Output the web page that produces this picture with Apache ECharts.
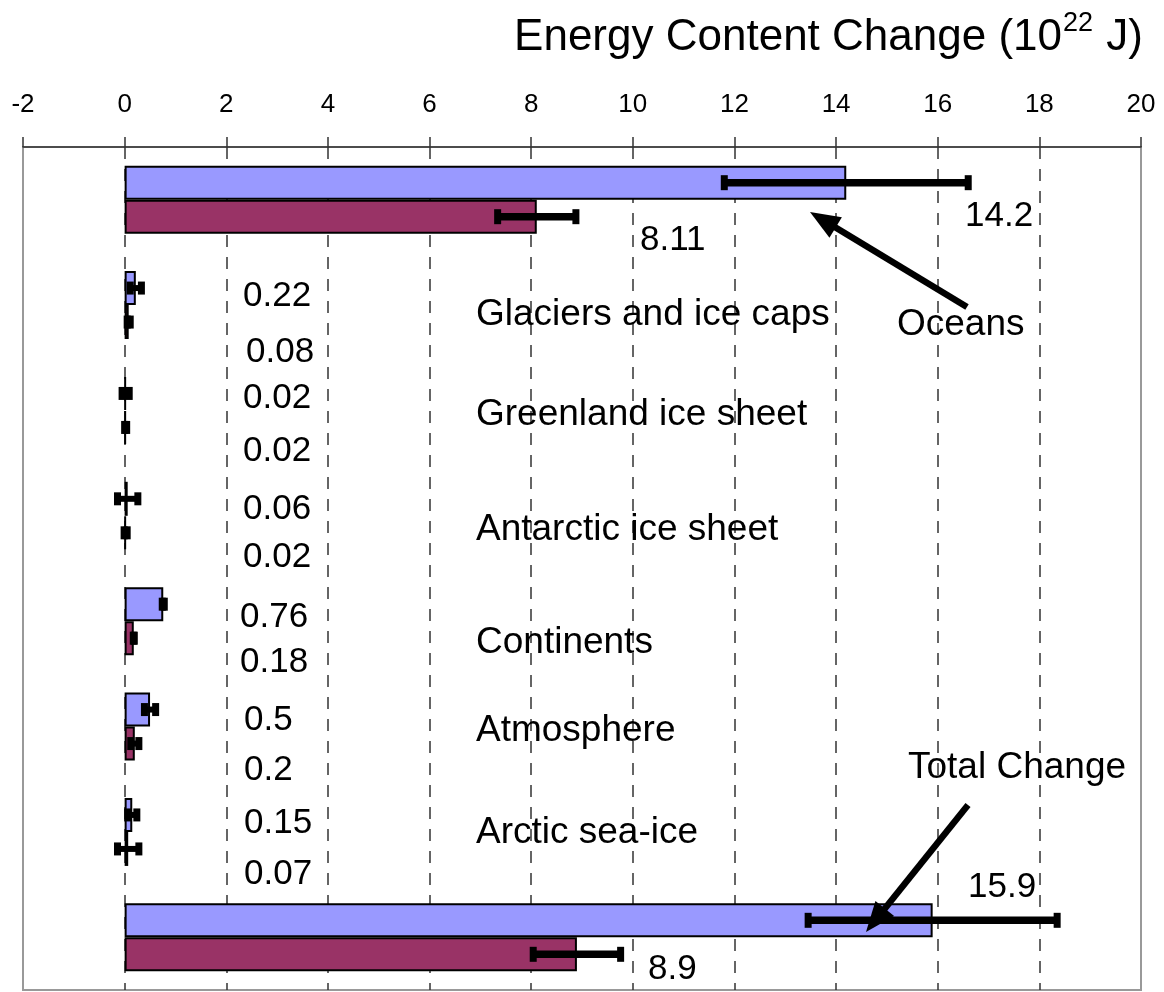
<!DOCTYPE html>
<html>
<head>
<meta charset="utf-8">
<script src="https://cdn.jsdelivr.net/npm/echarts@6/dist/echarts.min.js"></script>
<style>
  html, body { margin: 0; padding: 0; background: #fff; }
  #chart { width: 1164px; height: 992px; }
</style>
</head>
<body>
<div id="chart"></div>
<script>
// ---------------- data ----------------
const categories = ['Oceans', 'Glaciers and ice caps', 'Greenland ice sheet', 'Antarctic ice sheet',
                    'Continents', 'Atmosphere', 'Arctic sea-ice', 'Total Change'];
// longer period (blue) and recent period (purple), 10^22 J
const blueValues = [14.2, 0.22, 0.02, 0.06, 0.76, 0.5, 0.15, 15.9];
const blueErrors = [2.4, 0.11, 0.07, 0.2, 0.02, 0.11, 0.09, 2.45];
const redValues  = [8.11, 0.08, 0.02, 0.02, 0.18, 0.2, 0.07, 8.9];
const redErrors  = [0.77, 0.03, 0.02, 0.03, 0.01, 0.08, 0.21, 0.86];
const axisMin = -2, axisMax = 20, axisStep = 2;
const titleMain = 'Energy Content Change (10';
const titleSup = '22';
const titleEnd = ' J)';

// ---------------- layout / style ----------------
const FONT = "'Liberation Sans', Arial, sans-serif";
const BAR_W = 34;
const BLUE = '#9999FF', RED = '#993366';
// value label anchor points (left x, middle y) in pixels: [blue, red] per category
const valueLabelPos = [
  [[965, 216], [640, 240]],
  [[243, 296], [246, 352]],
  [[243, 398], [243, 451]],
  [[243, 509], [243, 557]],
  [[240, 617], [240, 662]],
  [[244, 720], [244, 770]],
  [[244, 823], [244, 874]],
  [[968, 887], [648, 969]]
];
const categoryLabelPos = [null, [476, 315], [476, 415], [476, 530], [476, 643], [476, 731], [476, 833], null];
const annotations = [
  { text: 'Oceans', x: 897, y: 325, tail: [967, 307], tip: [810, 212] },
  { text: 'Total Change', x: 908, y: 768, tail: [968, 805], tip: [866, 932] }
];

function arrow(tail, tip) {
  const dx = tip[0] - tail[0], dy = tip[1] - tail[1];
  const len = Math.sqrt(dx * dx + dy * dy);
  const ux = dx / len, uy = dy / len;
  const hl = 30, hw = 12;
  const bx = tip[0] - ux * hl, by = tip[1] - uy * hl;
  const nx = -uy, ny = ux;
  return [
    { type: 'line', z: 100, shape: { x1: tail[0], y1: tail[1], x2: bx + ux * 4, y2: by + uy * 4 },
      style: { stroke: '#000', lineWidth: 6.5 } },
    { type: 'polygon', z: 100, shape: { points: [tip, [bx + nx * hw, by + ny * hw], [bx - nx * hw, by - ny * hw]] },
      style: { fill: '#000' } }
  ];
}

function txt(text, x, y, size, align) {
  return { type: 'text', z: 100, x: x, y: y,
    style: { text: text, font: size + 'px ' + FONT, fill: '#000',
             align: align || 'left', verticalAlign: 'middle',
             textAlign: align || 'left', textVerticalAlign: 'middle' } };
}

const graphics = [];
// title
graphics.push(txt(titleMain, 1062, 38, 44, 'right'));
graphics.push(txt(titleSup, 1063, 24, 27, 'left'));
graphics.push(txt(titleEnd, 1094, 38, 44, 'left'));
// value labels
for (let i = 0; i < categories.length; i++) {
  graphics.push(txt(String(blueValues[i]), valueLabelPos[i][0][0], valueLabelPos[i][0][1], 35));
  graphics.push(txt(String(redValues[i]), valueLabelPos[i][1][0], valueLabelPos[i][1][1], 35));
  if (categoryLabelPos[i]) graphics.push(txt(categories[i], categoryLabelPos[i][0], categoryLabelPos[i][1], 37));
}
annotations.forEach(a => {
  graphics.push(txt(a.text, a.x, a.y, 37));
  arrow(a.tail, a.tip).forEach(g => graphics.push(g));
});

function errorSeries(values, errors, offset) {
  return {
    type: 'custom',
    z: 5,
    silent: true,
    data: values.map((v, i) => [v, errors[i], i]),
    encode: { x: 0, y: 2 },
    renderItem: function (params, api) {
      const v = api.value(0), e = api.value(1), idx = api.value(2);
      const lo = api.coord([v - e, idx]);
      const hi = api.coord([v + e, idx]);
      const y = lo[1] + offset;
      const big = (hi[0] - lo[0]) > 40;
      const capW = 7, capH = big ? 15 : 13, lw = big ? 7.5 : 6;
      return {
        type: 'group',
        children: [
          { type: 'rect', shape: { x: lo[0], y: y - lw / 2, width: Math.max(hi[0] - lo[0], 0.5), height: lw }, style: { fill: '#000' } },
          { type: 'rect', shape: { x: lo[0] - capW / 2, y: y - capH / 2, width: capW, height: capH }, style: { fill: '#000' } },
          { type: 'rect', shape: { x: hi[0] - capW / 2, y: y - capH / 2, width: capW, height: capH }, style: { fill: '#000' } }
        ]
      };
    }
  };
}

const chart = echarts.init(document.getElementById('chart'), null, { renderer: 'canvas' });
chart.setOption({
  animation: false,
  backgroundColor: '#fff',
  grid: { left: 23, right: 23, top: 147, bottom: 2, show: true, borderColor: '#999', borderWidth: 2, backgroundColor: 'transparent' },
  xAxis: {
    type: 'value', position: 'top', min: axisMin, max: axisMax, interval: axisStep,
    axisLine: { show: true, lineStyle: { color: '#333', width: 1.5 } },
    axisTick: { show: true, inside: false, length: 10, lineStyle: { color: '#333', width: 1.5 } },
    axisLabel: { fontSize: 26, color: '#000', fontFamily: FONT, margin: 29 },
    splitLine: { show: true, showMinLine: false, showMaxLine: false, lineStyle: { color: '#333', width: 1.5, type: [12, 10] } }
  },
  yAxis: {
    type: 'category', data: categories, inverse: true,
    axisLine: { show: false }, axisTick: { show: false }, axisLabel: { show: false }, splitLine: { show: false }
  },
  series: [
    { type: 'bar', name: 'blue', data: blueValues, barWidth: BAR_W, barGap: '0%', z: 3,
      itemStyle: { color: BLUE, borderColor: '#000', borderWidth: 2 } },
    { type: 'bar', name: 'red', data: redValues, barWidth: BAR_W, barGap: '0%', z: 3,
      itemStyle: { color: RED, borderColor: '#000', borderWidth: 2 } },
    errorSeries(blueValues, blueErrors, -BAR_W / 2),
    errorSeries(redValues, redErrors, BAR_W / 2)
  ],
  graphic: graphics
});
</script>
</body>
</html>
